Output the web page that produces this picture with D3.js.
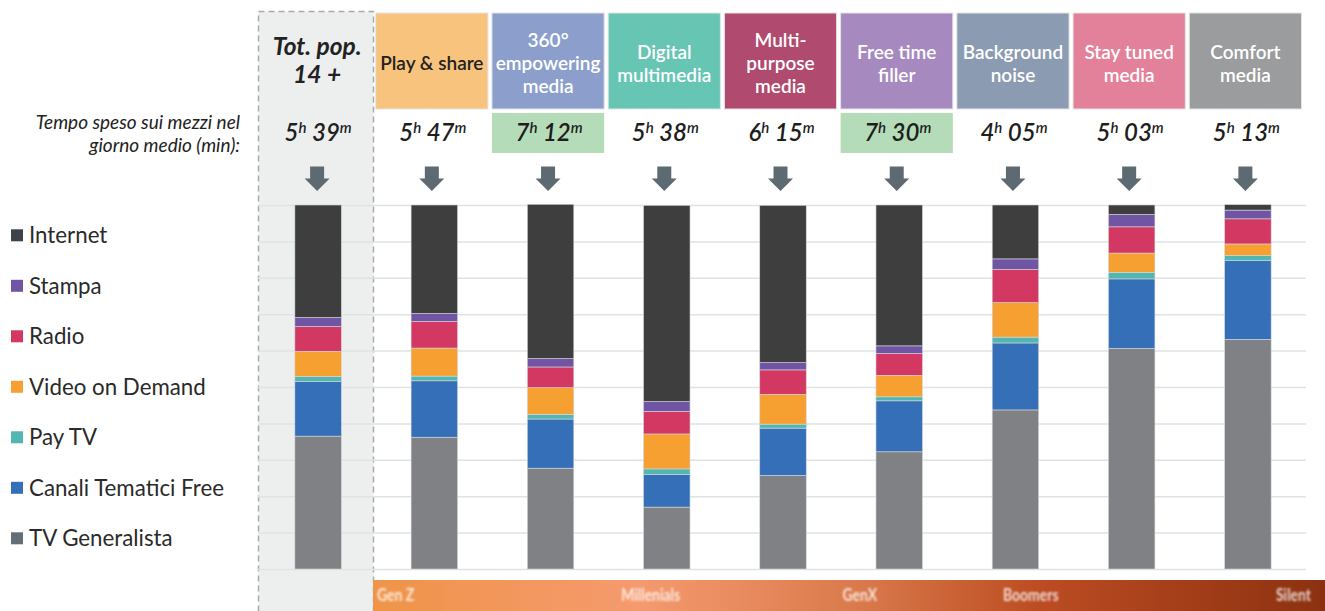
<!DOCTYPE html>
<html>
<head>
<meta charset="utf-8">
<script src="https://cdn.jsdelivr.net/npm/d3@7"></script>
<style>
body { margin: 0; background: #fff; }
svg { display: block; font-family: Lato, "Open Sans", sans-serif; }
</style>
</head>
<body>
<div id="main"></div>
<script>
var ctx = {
    w: 1325,
    h: 611,
};

// categories (first one is the total population)
const categories = ["Tot. pop. 14 +", "Play & share", "360° empowering media", "Digital multimedia",
    "Multi-purpose media", "Free time filler", "Background noise", "Stay tuned media", "Comfort media"];
const headerLines = [["Tot. pop.", "14 +"], ["Play & share"], ["360°", "empowering", "media"], ["Digital", "multimedia"],
    ["Multi-", "purpose", "media"], ["Free time", "filler"], ["Background", "noise"], ["Stay tuned", "media"], ["Comfort", "media"]];
const headerColors = [null, "#f8c37c", "#8c9fcc", "#66c5b3", "#b04a6e", "#a68abf", "#8b9bb1", "#e3819a", "#9b9c9e"];

// time spent per day
const hours = ["5", "5", "7", "5", "6", "7", "4", "5", "5"];
const minutes = ["39", "47", "12", "38", "15", "30", "05", "03", "13"];
const highlighted = [false, false, true, false, false, true, false, false, false];

// media series, bottom to top (share of time, %)
const media = ["TV Generalista", "Canali Tematici Free", "Pay TV", "Video on Demand", "Radio", "Stampa", "Internet"];
const mediaColors = ["#808185", "#356fb8", "#52b7b0", "#f7a032", "#d33862", "#7055a4", "#3e3e3e"];
const legendColors = ["#646e76", "#356fb8", "#52b7b0", "#f7a032", "#d33862", "#7055a4", "#3d4349"];
const tvGeneralista = [36.5, 36.2, 27.7, 17.0, 25.7, 32.2, 43.7, 60.6, 63.1];
const canaliFree    = [15.0, 15.5, 13.5, 9.0, 13.0, 14.0, 18.4, 19.1, 21.6];
const payTv         = [1.4, 1.3, 1.3, 1.5, 1.1, 1.1, 1.6, 1.8, 1.4];
const vod           = [6.9, 7.7, 7.3, 9.6, 8.2, 5.9, 9.5, 5.3, 3.2];
const radio         = [6.8, 7.3, 5.7, 6.2, 6.7, 6.0, 9.1, 7.2, 6.9];
const stampa        = [2.5, 2.2, 2.3, 2.7, 2.0, 2.1, 2.9, 3.4, 2.4];
const internet      = [30.9, 29.8, 42.4, 53.9, 43.2, 38.7, 14.8, 2.6, 1.5];

const generations = ["Gen Z", "Millenials", "GenX", "Boomers", "Silent"];
const generationPos = [0.0, 0.293, 0.517, 0.70, 1.0];

var createViz = function(){
    var svgEl = d3.select("#main").append("svg")
        .attr("width", ctx.w)
        .attr("height", ctx.h);
    ctx.svg = svgEl;

    var x = d3.scaleBand().domain(categories).range([260, 1306])
        .paddingInner(0.6).paddingOuter(0.3);
    var y = d3.scaleLinear().domain([0, 100]).range([569, 205]);
    var cx = function(c){ return x(c) + x.bandwidth() / 2; };
    var step = x.step();

    // total population panel
    svgEl.append("rect")
        .attr("x", 258.5).attr("y", 11.5)
        .attr("width", 115).attr("height", 620)
        .attr("fill", "#edefee")
        .attr("stroke", "#a9abab")
        .attr("stroke-width", 1.5)
        .attr("stroke-dasharray", "6,4");

    // gridlines
    var grid = svgEl.append("g")
        .attr("transform", "translate(258,0)")
        .call(d3.axisLeft(y).tickValues(d3.range(0, 101, 10)).tickSize(-1048).tickFormat(""));
    grid.select(".domain").remove();
    grid.selectAll("line").attr("stroke", "#dfe3e3").attr("stroke-width", 1.5);

    // stacked bars
    var rows = categories.map(function(c, i){
        return {cat: c, "TV Generalista": tvGeneralista[i], "Canali Tematici Free": canaliFree[i],
            "Pay TV": payTv[i], "Video on Demand": vod[i], "Radio": radio[i], "Stampa": stampa[i], "Internet": internet[i]};
    });
    var stack = d3.stack().keys(media)(rows);
    var color = d3.scaleOrdinal().domain(media).range(mediaColors);
    svgEl.append("g").attr("id", "bars")
        .selectAll("g")
        .data(stack)
        .enter()
        .append("g")
        .attr("fill", function(d){ return color(d.key); })
        .selectAll("rect")
        .data(function(d){ return d; })
        .enter()
        .append("rect")
        .attr("x", function(d){ return x(d.data.cat); })
        .attr("width", x.bandwidth())
        .attr("y", function(d){ return y(d[1]); })
        .attr("height", function(d){ return y(d[0]) - y(d[1]); })
        .attr("stroke", "#d4d8da")
        .attr("stroke-width", 0.6);

    // header boxes (slightly left of the bar centres, as in the slide)
    var head = svgEl.append("g").attr("id", "headers");
    categories.forEach(function(c, i){
        var g = head.append("g");
        var hx = i == 0 ? cx(c) - 1 : cx(c) - 2.5;
        if (headerColors[i]) {
            g.append("rect")
                .attr("x", hx - step / 2 + 2).attr("y", 13)
                .attr("width", step - 4).attr("height", 96)
                .attr("fill", headerColors[i])
                .attr("stroke", "#e4e4e4").attr("stroke-width", 1);
        }
        var lines = headerLines[i];
        lines.forEach(function(l, k){
            var t = g.append("text")
                .attr("x", hx)
                .attr("text-anchor", "middle")
                .text(l);
            if (i == 0) {
                t.attr("y", 55 + k * 27.5)
                    .attr("font-size", 24.5).attr("font-weight", 700).attr("font-style", "italic")
                    .attr("fill", "#222");
            } else {
                t.attr("y", 70 + (k - (lines.length - 1) / 2) * 23)
                    .attr("font-size", 19).attr("font-weight", 600)
                    .attr("fill", i == 1 ? "#222" : "#fff");
            }
        });

        // time per day
        if (highlighted[i]) {
            g.append("rect")
                .attr("x", hx - step / 2 + 2).attr("y", 113)
                .attr("width", step - 4).attr("height", 40)
                .attr("fill", "#b5dcb8");
        }
        var tt = g.append("text")
            .attr("x", hx + 1).attr("y", 140.5)
            .attr("text-anchor", "middle")
            .attr("font-style", "italic").attr("font-weight", 600)
            .attr("fill", "#1e1e1e")
            .attr("font-size", 24);
        tt.append("tspan").text(hours[i]);
        tt.append("tspan").attr("font-size", 15).attr("dy", -8).text("h");
        tt.append("tspan").attr("dy", 8).text(" " + minutes[i]);
        tt.append("tspan").attr("font-size", 15).attr("dy", -8).text("m");

        // arrow
        var ax = hx, at = 166.5;
        g.append("path")
            .attr("d", "M" + (ax - 7) + "," + at + "H" + (ax + 7) + "V" + (at + 12) + "H" + (ax + 12.5)
                + "L" + ax + "," + (at + 24.5) + "L" + (ax - 12.5) + "," + (at + 12) + "H" + (ax - 7) + "Z")
            .attr("fill", "#5e6a71");
    });

    // left caption
    var cap = svgEl.append("text")
        .attr("text-anchor", "end")
        .attr("font-style", "italic")
        .attr("font-size", 19)
        .attr("fill", "#222");
    cap.append("tspan").attr("x", 240).attr("y", 128.5).text("Tempo speso sui mezzi nel");
    cap.append("tspan").attr("x", 240).attr("y", 151.5).text("giorno medio (min):");

    // legend (top to bottom)
    var legendItems = media.slice().reverse();
    var legendCols = legendColors.slice().reverse();
    var leg = svgEl.append("g").attr("id", "legend");
    legendItems.forEach(function(m, i){
        var by = 243 + i * 50.5;
        leg.append("rect")
            .attr("x", 11).attr("y", by - 13.7)
            .attr("width", 12).attr("height", 12)
            .attr("fill", legendCols[i]);
        leg.append("text")
            .attr("x", 29).attr("y", by)
            .attr("font-size", 22.3)
            .attr("fill", "#2a2a2a")
            .text(m);
    });

    // generations band
    var defs = svgEl.append("defs");
    var grad = defs.append("linearGradient").attr("id", "genGrad");
    [["0%", "#ef9448"], ["28%", "#f59a6e"], ["52%", "#d8784a"], ["70%", "#bc4c22"], ["100%", "#8c3110"]]
        .forEach(function(s){ grad.append("stop").attr("offset", s[0]).attr("stop-color", s[1]); });
    defs.append("filter").attr("id", "blur")
        .append("feGaussianBlur").attr("stdDeviation", 0.8);
    svgEl.append("rect")
        .attr("x", 373).attr("y", 580)
        .attr("width", 952).attr("height", 31)
        .attr("fill", "url(#genGrad)");
    var gx = d3.scaleLinear().domain([0, 1]).range([377, 1311]);
    svgEl.append("g").attr("filter", "url(#blur)")
        .selectAll("text")
        .data(generations)
        .enter()
        .append("text")
        .attr("x", function(d, i){ return gx(generationPos[i]); })
        .attr("y", 601)
        .attr("text-anchor", function(d, i){ return i == 0 ? "start" : (i == generations.length - 1 ? "end" : "middle"); })
        .attr("font-size", 17)
        .attr("font-weight", 700)
        .attr("fill", "#fff")
        .attr("fill-opacity", 0.8)
        .attr("transform", function(d, i){ var xx = gx(generationPos[i]); return "translate(" + xx + ",601) scale(0.82,1) translate(" + (-xx) + ",-601)"; })
        .text(function(d){ return d; });
};

createViz();
</script>
</body>
</html>
